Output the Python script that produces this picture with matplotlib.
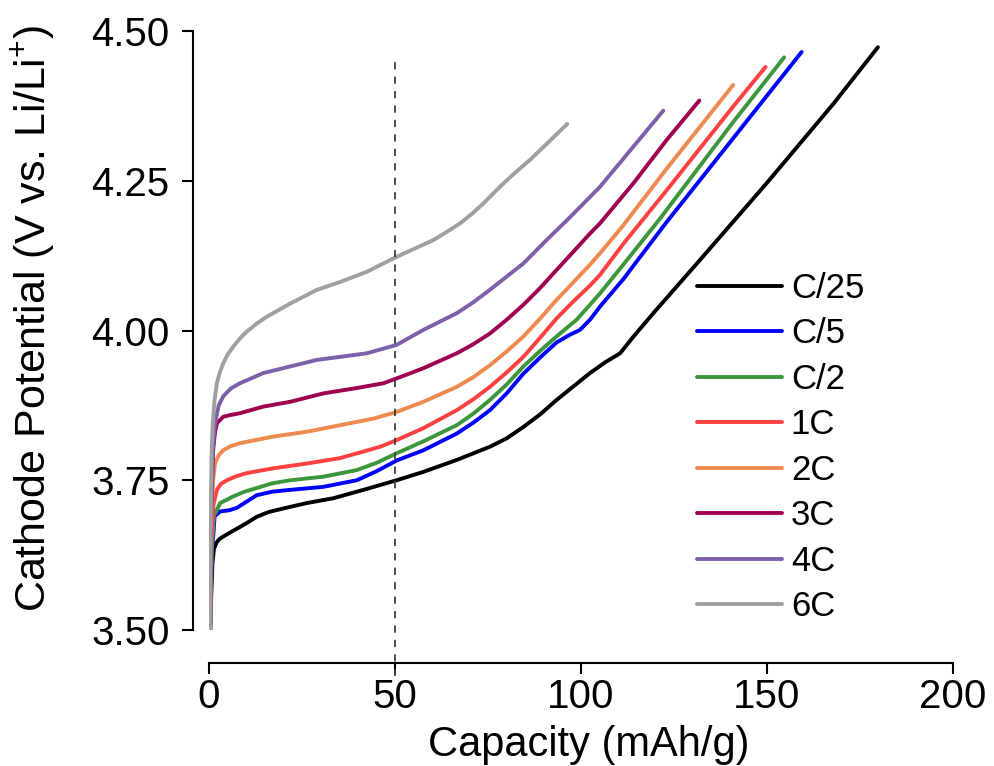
import numpy as np
import matplotlib
matplotlib.use("Agg")
import matplotlib.pyplot as plt

plt.rcParams['font.family'] = ['Liberation Sans', 'DejaVu Sans']
plt.rcParams['mathtext.default'] = 'regular'

# charge curves: capacity (mAh/g), potential (V)
x_c25 = [0.3, 0.6, 0.9, 1.3, 2.0, 2.8, 3.8, 6, 8.3, 10.5, 12.8, 16, 20, 26.3, 33.4, 41.5, 50.4,
         57.6, 66.6, 75.5, 80, 84.5, 89, 93.4, 98, 102.4, 106.5, 110.5, 114.1, 120, 132,
         149.9, 167.9, 179.8]
y_c25 = [3.50, 3.56, 3.61, 3.635, 3.646, 3.652, 3.656, 3.664, 3.672, 3.680, 3.689, 3.697, 3.703,
         3.712, 3.720, 3.734, 3.750, 3.764, 3.784, 3.806, 3.820, 3.839, 3.860, 3.884, 3.907,
         3.929, 3.947, 3.962, 3.990, 4.033, 4.118, 4.246, 4.379, 4.473]

x_c5 = [0.3, 0.7, 1.5, 3.0, 5.5, 7.5, 9.5, 12.8, 17, 21.8, 30.7, 39.7, 45, 50.4, 57.6, 66.6,
        71, 75.5, 80, 84.5, 89, 93.4, 97, 99.7, 102.4, 105.1, 111.4, 115.9, 123, 140.9, 159.3]
y_c5 = [3.50, 3.62, 3.69, 3.698, 3.700, 3.704, 3.712, 3.725, 3.731, 3.734, 3.739, 3.750, 3.765,
        3.783, 3.800, 3.828, 3.846, 3.867, 3.895, 3.928, 3.955, 3.980, 3.993, 4.001, 4.018,
        4.040, 4.086, 4.123, 4.181, 4.321, 4.465]

x_c2 = [0.3, 0.7, 1.3, 3.0, 6.5, 9.5, 12.8, 17, 21.8, 30.7, 39.7, 45, 50.4, 57.6, 66.6, 71,
        75.5, 80, 84.5, 89, 93.4, 98.8, 105.1, 112, 121, 140.9, 154.6]
y_c2 = [3.50, 3.63, 3.69, 3.712, 3.723, 3.731, 3.737, 3.745, 3.750, 3.756, 3.767, 3.779, 3.795,
        3.815, 3.842, 3.861, 3.884, 3.910, 3.940, 3.966, 3.990, 4.018, 4.062, 4.115, 4.185,
        4.348, 4.456]

x_1c = [0.3, 0.7, 1.2, 2.1, 3.2, 4.8, 7, 10.1, 17.3, 26.3, 35.2, 41.5, 46, 50.4, 57.6, 66.6,
        71, 75.5, 80, 84.5, 89, 93.4, 98, 102.4, 105.1, 111.4, 123, 140.9, 149.6]
y_1c = [3.50, 3.65, 3.71, 3.734, 3.744, 3.750, 3.756, 3.762, 3.770, 3.778, 3.787, 3.798, 3.806,
        3.817, 3.837, 3.867, 3.885, 3.906, 3.930, 3.956, 3.988, 4.020, 4.049, 4.075, 4.093,
        4.145, 4.234, 4.374, 4.440]

x_2c = [0.3, 0.6, 1.1, 1.6, 2.6, 3.8, 5.8, 8.3, 17.3, 26.3, 35.2, 44.2, 50.4, 57.6, 66.6, 71,
        75.5, 80, 84.5, 89, 93.4, 98, 102.4, 105.1, 111.4, 123, 140.9]
y_2c = [3.50, 3.68, 3.75, 3.778, 3.792, 3.800, 3.807, 3.812, 3.823, 3.831, 3.842, 3.853, 3.864,
        3.881, 3.906, 3.922, 3.942, 3.965, 3.990, 4.020, 4.051, 4.081, 4.110, 4.129, 4.176,
        4.270, 4.410]

x_3c = [0.3, 0.6, 1.1, 1.6, 2.1, 3.8, 5.8, 8.3, 14.6, 21.8, 30.7, 39.7, 46.9, 50.4, 57.6,
        66.6, 71, 75.5, 80, 84.5, 89, 93.4, 98, 102.4, 105.1, 114.1, 123, 131.8]
y_3c = [3.50, 3.70, 3.80, 3.830, 3.845, 3.856, 3.859, 3.862, 3.873, 3.881, 3.895, 3.904, 3.912,
        3.920, 3.937, 3.962, 3.977, 3.995, 4.018, 4.043, 4.071, 4.101, 4.132, 4.162, 4.179,
        4.246, 4.318, 4.384]

x_4c = [0.3, 0.6, 1.0, 1.6, 2.6, 3.8, 5.8, 8.3, 14.6, 21.8, 29, 35.2, 42.4, 50.4, 57.6, 66.6,
        71, 75.5, 80, 84.5, 88, 91.7, 96.2, 105.1, 122.1]
y_4c = [3.50, 3.70, 3.80, 3.845, 3.875, 3.890, 3.903, 3.912, 3.929, 3.940, 3.951, 3.956, 3.962,
        3.976, 4.001, 4.029, 4.047, 4.068, 4.090, 4.112, 4.134, 4.157, 4.184, 4.240, 4.367]

x_6c = [0.3, 0.4, 0.5, 0.7, 1.0, 1.5, 2.1, 2.9, 3.8, 5, 6.5, 8.2, 10.1, 12.7, 15.5, 21.8, 29,
        35.2, 42.4, 50.4, 55, 60.3, 64, 67.5, 70.7, 73.7, 78.2, 82, 86.3, 91, 96.3]
y_6c = [3.50, 3.65, 3.72, 3.80, 3.845, 3.885, 3.912, 3.930, 3.945, 3.960, 3.973, 3.986, 3.998,
        4.011, 4.023, 4.045, 4.068, 4.081, 4.098, 4.123, 4.136, 4.151, 4.165, 4.179, 4.195,
        4.212, 4.240, 4.262, 4.285, 4.313, 4.345]

labels = ['C/25', 'C/5', 'C/2', '1C', '2C', '3C', '4C', '6C']
xs = [x_c25, x_c5, x_c2, x_1c, x_2c, x_3c, x_4c, x_6c]
ys = [y_c25, y_c5, y_c2, y_1c, y_2c, y_3c, y_4c, y_6c]
colors = ['#000000', '#0000FF', '#3C963C', '#FF4040', '#EE8A50', '#A00050', '#7D5FAA', '#A0A0A0']

ref_capacity = 50
ref_span = (3.423, 4.457)

fig = plt.figure(figsize=(9.94, 7.66), dpi=100)
ax = fig.add_axes([0.2103, 0.1775, 0.7485, 0.782])

for x, y, c, lab in zip(xs, ys, colors, labels):
    ax.plot(x, y, color=c, lw=2.8, label=lab, solid_capstyle='round', solid_joinstyle='round')

ax.plot([ref_capacity, ref_capacity], ref_span, color='#404040', lw=1.3,
        linestyle=(0, (4, 4)), clip_on=False)

ax.set_xlim(0, 200)
ax.set_ylim(3.5, 4.5)
ax.set_xticks([0, 50, 100, 150, 200])
ax.set_yticks([3.5, 3.75, 4.0, 4.25, 4.5])
ax.set_yticklabels(['3.50', '3.75', '4.00', '4.25', '4.50'])

for s in ['top', 'right']:
    ax.spines[s].set_visible(False)
ax.spines['left'].set_position(('outward', 11.5))
ax.spines['bottom'].set_position(('outward', 23.8))
ax.spines['left'].set_linewidth(1.5)
ax.spines['bottom'].set_linewidth(1.5)
ax.tick_params(axis='both', direction='out', length=8, width=1.5, labelsize=29)
ax.tick_params(axis='y', pad=9)
ax.tick_params(axis='x', pad=3)

ax.set_xlabel('Capacity (mAh/g)', fontsize=30)
ax.set_ylabel('Cathode Potential (V vs. Li/Li$^{+}$)', fontsize=31)
ax.xaxis.set_label_coords(0.511, -0.158)
ax.yaxis.set_label_coords(-0.205, 0.52)

ax.legend(loc='upper left', bbox_to_anchor=(0.656, 0.598), frameon=False, fontsize=25,
          handlelength=2.45, handletextpad=0.25, labelspacing=0.36,
          borderpad=0, borderaxespad=0)

fig.savefig('out.png', dpi=100)
